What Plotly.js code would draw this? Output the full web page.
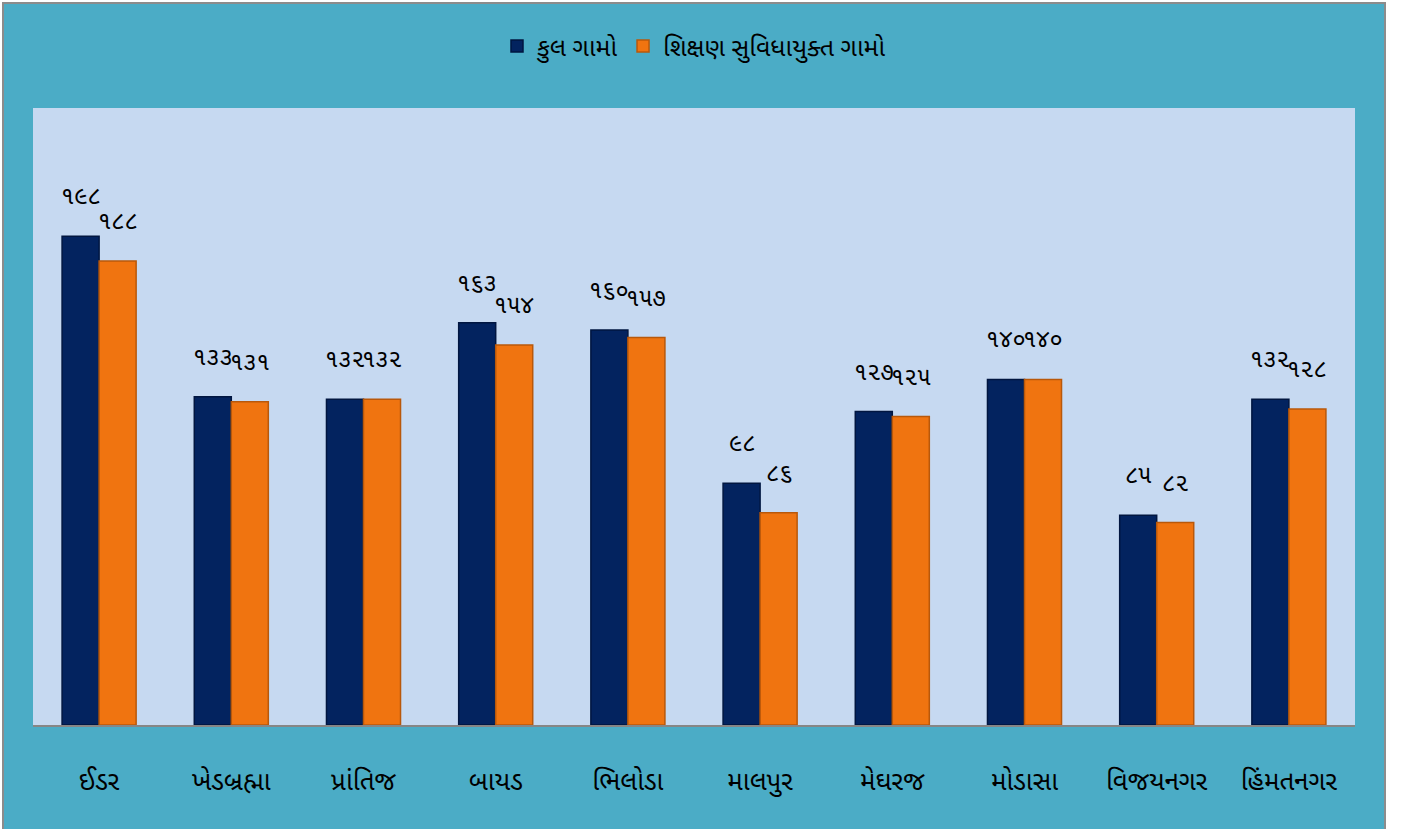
<!DOCTYPE html>
<html>
<head>
<meta charset="utf-8">
<script src="https://cdn.plot.ly/plotly-3.0.1.min.js"></script>
<style>
html,body{margin:0;padding:0;background:#ffffff;overflow:hidden;}
#chart{position:absolute;left:2px;top:2px;width:1380px;height:830px;border:2px solid #8c8c8c;}
</style>
</head>
<body>
<div id="chart"></div>
<script>
const categories = ["ઈડર","ખેડબ્રહ્મા","પ્રાંતિજ","બાયડ","ભિલોડા","માલપુર","મેઘરજ","મોડાસા","વિજયનગર","હિંમતનગર"];
const seriesNames = ["કુલ ગામો","શિક્ષણ સુવિધાયુક્ત ગામો"];
const totalVillages = [198,133,132,163,160,98,127,140,85,132];
const eduVillages = [188,131,132,154,157,86,125,140,82,128];

const gujDigits = ["૦","૧","૨","૩","૪","૫","૬","૭","૮","૯"];
function toGuj(n){ return String(n).split("").map(c => gujDigits[+c] ?? c).join(""); }

const FONT = '"Noto Sans Gujarati", "Noto Sans", "Lohit Gujarati", sans-serif';
const NAVY = "#03235F", ORANGE = "#F07410";

const traces = [
  {
    type: "bar", name: seriesNames[0], x: categories, y: totalVillages,
    marker: {color: NAVY, line: {color: "#011640", width: 1.5}},
    hoverinfo: "x+y"
  },
  {
    type: "bar", name: seriesNames[1], x: categories, y: eduVillages,
    marker: {color: ORANGE, line: {color: "#B9580A", width: 1.5}},
    hoverinfo: "x+y"
  }
];

// data labels placed above each bar, Excel-style (a little higher than Plotly's default)
const annotations = [];
const halfBar = 18.5;
[totalVillages, eduVillages].forEach((vals, s) => {
  vals.forEach((v, i) => {
    annotations.push({
      x: categories[i], y: v, xref: "x", yref: "y",
      text: toGuj(v), showarrow: false,
      xshift: s === 0 ? -halfBar : halfBar, yshift: 20,
      yanchor: "bottom", xanchor: "center",
      font: {family: FONT, size: 24, color: "#000000"}
    });
  });
});

const layout = {
  width: 1380, height: 830,
  paper_bgcolor: "#4BACC6",
  plot_bgcolor: "#C6D9F1",
  margin: {l: 29, r: 29, t: 104, b: 109},
  barmode: "group",
  bargap: 0.44,
  bargroupgap: 0,
  font: {family: FONT, size: 24, color: "#000000"},
  showlegend: true,
  legend: {
    orientation: "h", x: 0.5, xanchor: "center", y: 1.1, yanchor: "middle",
    font: {family: FONT, size: 25, color: "#000000"},
    bgcolor: "rgba(0,0,0,0)", itemwidth: 30
  },
  xaxis: {
    type: "category",
    showline: true, linecolor: "#868686", linewidth: 2,
    ticks: "", showgrid: false,
    tickfont: {family: FONT, size: 26, color: "#000000"},
    ticklabelstandoff: 32
  },
  yaxis: {
    range: [0, 250], showgrid: false, zeroline: false,
    showticklabels: false, ticks: "", showline: false
  },
  annotations: annotations
};

Plotly.newPlot("chart", traces, layout, {displayModeBar: false, staticPlot: true});
</script>
</body>
</html>
